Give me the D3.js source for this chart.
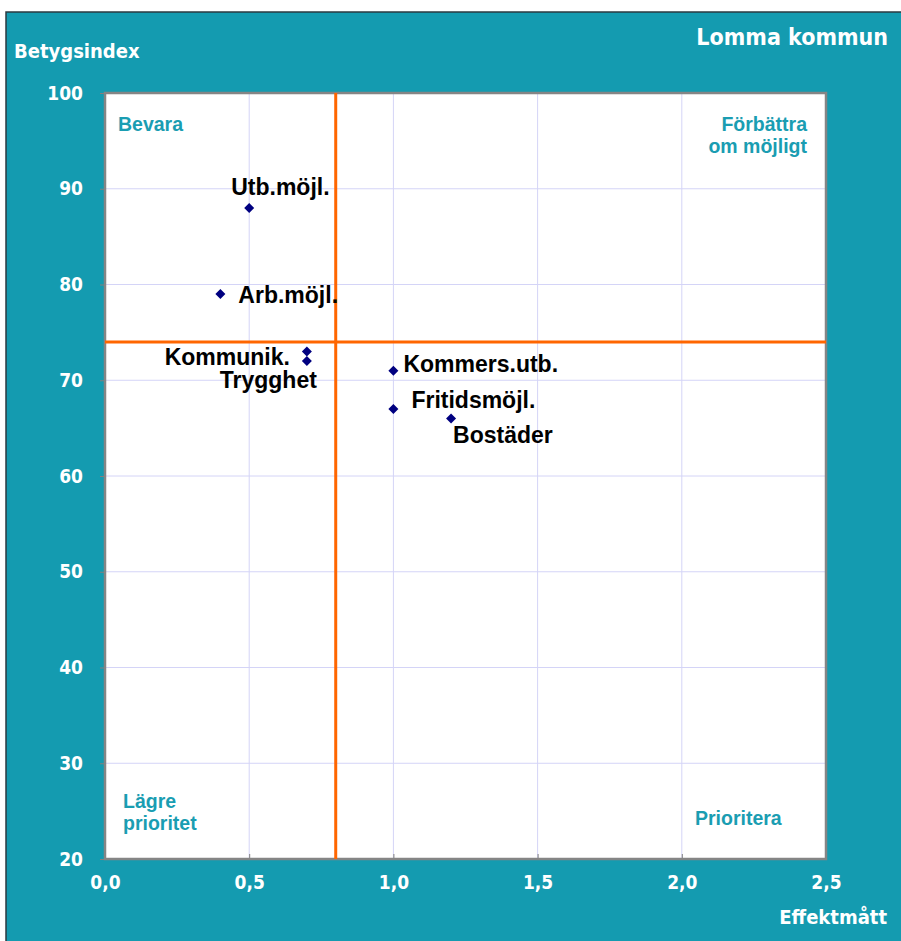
<!DOCTYPE html>
<html>
<head>
<meta charset="utf-8">
<script src="https://cdn.jsdelivr.net/npm/d3@7"></script>
<style>
  body { margin: 0; background: #fff; }
  svg { display: block; }
</style>
</head>
<body>
<svg id="chart" width="901" height="941"></svg>
<script>
// Lomma kommun – betygsindex vs effektmått
const labels = ['Utb.möjl.', 'Arb.möjl.', 'Kommunik.', 'Trygghet', 'Kommers.utb.', 'Fritidsmöjl.', 'Bostäder'];
const effekt = [0.5, 0.4, 0.7, 0.7, 1.0, 1.0, 1.2];
const betyg = [88, 79, 73, 72, 71, 67, 66];
const xTicks = [0, 0.5, 1.0, 1.5, 2.0, 2.5];
const yTicks = [20, 30, 40, 50, 60, 70, 80, 90, 100];
const xCut = 0.8;
const yCut = 74;

// label placement relative to the marker (anchor, dx, dy)
const labelPlace = [
  ['start', -18, -13],
  ['start', 18, 9],
  ['end', -17, 13],
  ['end', 10, 27],
  ['start', 10, 1],
  ['start', 18, -1],
  ['start', 2, 24],
];

const teal = '#149bb0';
const narrow = "'DejaVu Sans', sans-serif";
const arial = "'Liberation Sans', Arial, sans-serif";

const svg = d3.select('#chart');
const m = { left: 105, top: 93, right: 826, bottom: 859 };

svg.append('rect')
  .attr('x', 6).attr('y', 12).attr('width', 900).attr('height', 935)
  .attr('fill', teal).attr('stroke', '#2b3a40').attr('stroke-width', 1.5);

const x = d3.scaleLinear().domain([0, 2.5]).range([m.left, m.right]);
const y = d3.scaleLinear().domain([20, 100]).range([m.bottom, m.top]);

svg.append('rect')
  .attr('x', m.left).attr('y', m.top)
  .attr('width', m.right - m.left).attr('height', m.bottom - m.top)
  .attr('fill', '#fff');

// grid
const grid = svg.append('g');
grid.selectAll('line.gx').data(xTicks.slice(1, -1)).join('line')
  .attr('x1', d => x(d)).attr('x2', d => x(d))
  .attr('y1', m.top).attr('y2', m.bottom)
  .attr('stroke', '#d4d4f7').attr('stroke-width', 1);
grid.selectAll('line.gy').data(yTicks.slice(1, -1)).join('line')
  .attr('x1', m.left).attr('x2', m.right)
  .attr('y1', d => y(d)).attr('y2', d => y(d))
  .attr('stroke', '#d4d4f7').attr('stroke-width', 1);

// axes
const xAxis = svg.append('g')
  .attr('transform', `translate(0,${m.bottom})`)
  .call(d3.axisBottom(x).tickValues(xTicks).tickSize(-5).tickPadding(17)
    .tickFormat(d => d3.format('.1f')(d).replace('.', ',')));
const yAxis = svg.append('g')
  .attr('transform', `translate(${m.left},0)`)
  .call(d3.axisLeft(y).tickValues(yTicks).tickSize(5).tickPadding(17));
[xAxis, yAxis].forEach(a => {
  a.select('.domain').remove();
  a.selectAll('.tick line').attr('stroke', '#808080');
  a.selectAll('.tick text')
    .attr('fill', '#fff').attr('font-family', narrow).attr('font-stretch', 'condensed')
    .attr('font-weight', 'bold').attr('font-size', 19);
});

svg.append('rect')
  .attr('x', m.left).attr('y', m.top)
  .attr('width', m.right - m.left).attr('height', m.bottom - m.top)
  .attr('fill', 'none').attr('stroke', '#858585').attr('stroke-width', 2.5);

// quadrant cut lines
svg.append('line')
  .attr('x1', x(xCut)).attr('x2', x(xCut)).attr('y1', m.top).attr('y2', m.bottom)
  .attr('stroke', '#ff6600').attr('stroke-width', 3);
svg.append('line')
  .attr('x1', m.left).attr('x2', m.right).attr('y1', y(yCut)).attr('y2', y(yCut))
  .attr('stroke', '#ff6600').attr('stroke-width', 3);

// quadrant labels
const quad = [
  { lines: ['Bevara'], x: 118, y: 131, anchor: 'start' },
  { lines: ['Förbättra', 'om möjligt'], x: 807, y: 131, anchor: 'end' },
  { lines: ['Lägre', 'prioritet'], x: 123, y: 808, anchor: 'start' },
  { lines: ['Prioritera'], x: 695, y: 825, anchor: 'start' },
];
quad.forEach(q => {
  const t = svg.append('text')
    .attr('x', q.x).attr('y', q.y).attr('text-anchor', q.anchor)
    .attr('font-family', arial).attr('font-weight', 'bold')
    .attr('font-size', 19.5).attr('fill', '#1a9db2');
  q.lines.forEach((l, i) => t.append('tspan').attr('x', q.x).attr('dy', i ? 22 : 0).text(l));
});

// points
const pts = labels.map((l, i) => ({ label: l, x: effekt[i], y: betyg[i], place: labelPlace[i] }));
svg.selectAll('path.pt').data(pts).join('path')
  .attr('class', 'pt')
  .attr('transform', d => `translate(${x(d.x)},${y(d.y)})`)
  .attr('d', d3.symbol(d3.symbolDiamond2, 64))
  .attr('fill', '#000080');
svg.selectAll('text.pl').data(pts).join('text')
  .attr('class', 'pl')
  .attr('x', d => x(d.x) + d.place[1])
  .attr('y', d => y(d.y) + d.place[2])
  .attr('text-anchor', d => d.place[0])
  .attr('font-family', arial).attr('font-weight', 'bold')
  .attr('font-size', 23).attr('fill', '#000')
  .text(d => d.label);

// titles
const title = (txt, tx, ty, anchor, size) => svg.append('text')
  .attr('x', tx).attr('y', ty).attr('text-anchor', anchor)
  .attr('font-family', narrow).attr('font-stretch', 'condensed')
  .attr('font-weight', 'bold').attr('font-size', size)
  .attr('fill', '#fff').text(txt);
title('Lomma kommun', 888, 45, 'end', 23);
title('Betygsindex', 14, 58, 'start', 20);
title('Effektmått', 887, 924, 'end', 20);
</script>
</body>
</html>
